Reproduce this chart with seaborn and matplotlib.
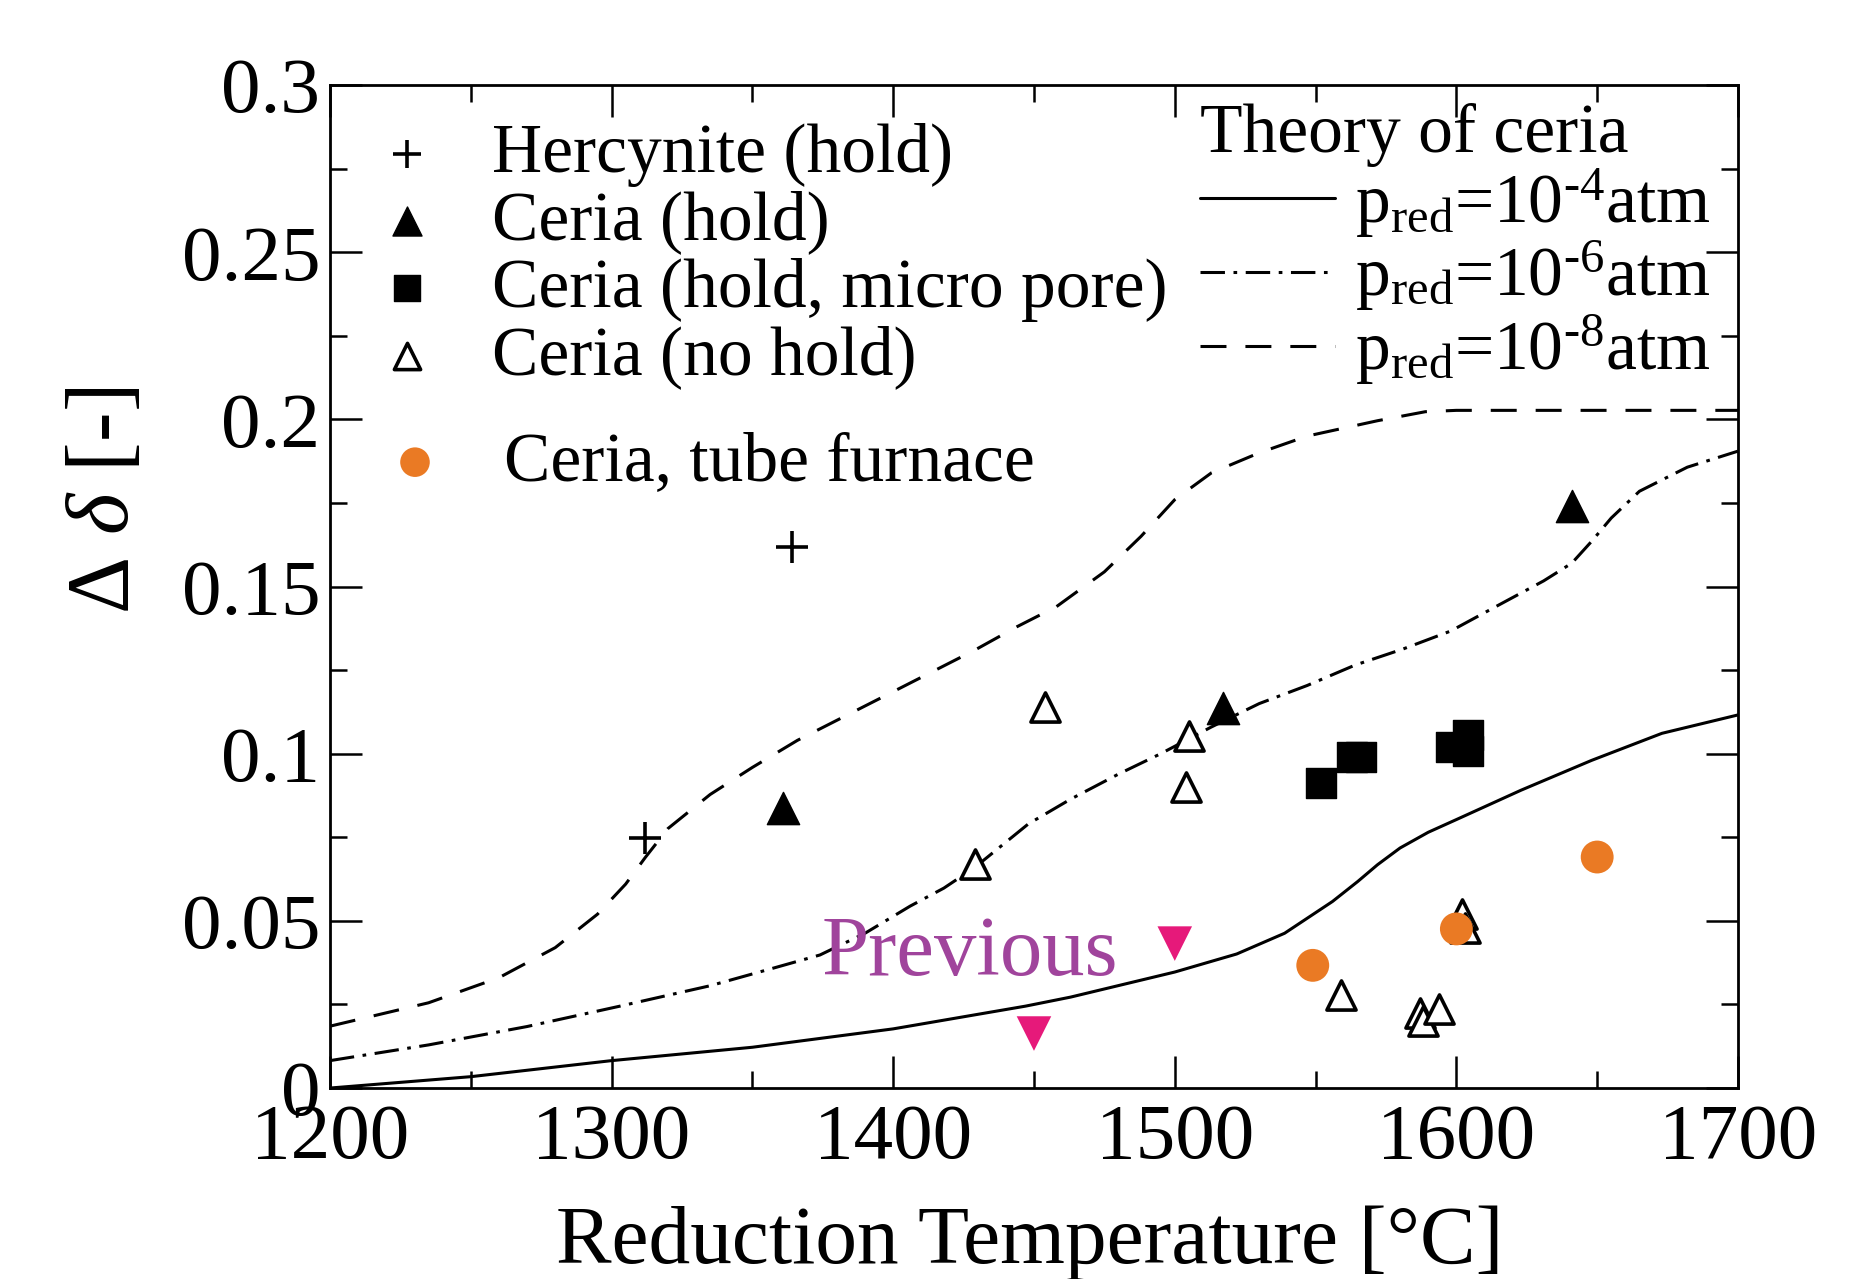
import numpy as np
import pandas as pd
import matplotlib
matplotlib.use("Agg")
import matplotlib.pyplot as plt
import seaborn as sns
from matplotlib.ticker import MultipleLocator, FixedLocator, FixedFormatter

sns.set_style("ticks")
plt.rcParams["font.family"] = ["Liberation Serif", "DejaVu Serif"]
plt.rcParams["mathtext.fontset"] = "custom"
plt.rcParams["mathtext.rm"] = "Liberation Serif"
plt.rcParams["mathtext.it"] = "Liberation Serif:italic"
plt.rcParams["text.color"] = "black"
plt.rcParams["axes.labelcolor"] = "black"

# theory curves
solid_T = [1200, 1250, 1300, 1350, 1400, 1447, 1463, 1500, 1522, 1539, 1556, 1565, 1572, 1580, 1590, 1600, 1623, 1648, 1673, 1700]
solid_d = [0.0, 0.0034, 0.0082, 0.0122, 0.0177, 0.0245, 0.0272, 0.0347, 0.0401, 0.0463, 0.0558, 0.0618, 0.0668, 0.0718, 0.0765, 0.0803, 0.0891, 0.098, 0.1061, 0.1116]

dashdot_T = [1200, 1235, 1270, 1303, 1335, 1358, 1374, 1390, 1406, 1418, 1429, 1448, 1463, 1480, 1495, 1513, 1530, 1547, 1564, 1581, 1598, 1614, 1631, 1641, 1648, 1655, 1665, 1682, 1700]
dashdot_d = [0.0082, 0.0129, 0.0184, 0.0245, 0.0306, 0.036, 0.0398, 0.0463, 0.0544, 0.0598, 0.066, 0.079, 0.0864, 0.0939, 0.100, 0.108, 0.115, 0.1204, 0.1265, 0.1313, 0.1367, 0.144, 0.1517, 0.157, 0.1635, 0.1705, 0.1785, 0.1857, 0.1905]

dashed_T = [1200, 1235, 1260, 1280, 1295, 1305, 1312, 1320, 1335, 1350, 1366, 1398, 1429, 1444, 1458, 1475, 1488, 1500, 1513, 1530, 1547, 1572, 1589, 1600, 1650, 1700]
dashed_d = [0.0185, 0.0255, 0.033, 0.042, 0.052, 0.061, 0.069, 0.0776, 0.0878, 0.0959, 0.104, 0.1177, 0.131, 0.138, 0.144, 0.1544, 0.165, 0.176, 0.184, 0.190, 0.195, 0.1996, 0.2023, 0.2027, 0.2027, 0.2027]

# measurements
herc_T = [1312, 1364]
herc_d = [0.0748, 0.1619]
hold_T = [1361, 1517, 1641]
hold_d = [0.0839, 0.1136, 0.1741]
micro_T = [1552, 1563, 1566, 1598, 1604, 1604]
micro_d = [0.0912, 0.0989, 0.0989, 0.102, 0.1057, 0.1007]
nohold_T = [1429, 1454, 1505, 1504, 1559, 1587, 1588, 1594, 1602, 1603]
nohold_d = [0.067, 0.1139, 0.1054, 0.0899, 0.0279, 0.0225, 0.0200, 0.0236, 0.0521, 0.048]
tube_T = [1549, 1600, 1650]
tube_d = [0.0367, 0.0476, 0.0691]
prev_T = [1450, 1500]
prev_d = [0.0163, 0.0432]

fig = plt.figure(figsize=(18.6, 12.79), dpi=100)
ax = fig.add_axes([0.1774, 0.1493, 0.757, 0.7842])

lw = 2.2
sns.lineplot(x=solid_T, y=solid_d, ax=ax, color="black", lw=lw, sort=False, estimator=None,
             label=r"p$_{\rm red}$=10$^{\text{-}4}$atm")
sns.lineplot(x=dashdot_T, y=dashdot_d, ax=ax, color="black", lw=lw, sort=False, estimator=None,
             linestyle=(0, (8, 2.8, 1.2, 2.8)), label=r"p$_{\rm red}$=10$^{\text{-}6}$atm")
sns.lineplot(x=dashed_T, y=dashed_d, ax=ax, color="black", lw=lw, sort=False, estimator=None,
             linestyle=(0, (8.5, 6.2)), label=r"p$_{\rm red}$=10$^{\text{-}8}$atm")

sns.scatterplot(x=herc_T, y=herc_d, ax=ax, marker="+", s=520, color="black", linewidth=2.6,
                label="Hercynite (hold)", zorder=5)
sns.scatterplot(x=hold_T, y=hold_d, ax=ax, marker="^", s=540, color="black", edgecolor="black",
                linewidth=1, label="Ceria (hold)", zorder=5)
sns.scatterplot(x=micro_T, y=micro_d, ax=ax, marker="s", s=460, color="black", edgecolor="black",
                linewidth=1, label="Ceria (hold, micro pore)", zorder=5)
sns.scatterplot(x=nohold_T, y=nohold_d, ax=ax, marker="^", s=440, color="white", edgecolor="black",
                linewidth=2.6, label="Ceria (no hold)", zorder=5)
sns.scatterplot(x=tube_T, y=tube_d, ax=ax, marker="o", s=560, color="#ea7a24", edgecolor="none",
                linewidth=0, label="Ceria, tube furnace", zorder=6)
sns.scatterplot(x=prev_T, y=prev_d, ax=ax, marker="v", s=620, color="#e6197a", edgecolor="none",
                linewidth=0, zorder=6)

ax.text(1374.7, 0.0338, "Previous", color="#a0449c", fontsize=61, ha="left", va="baseline")

ax.set_xlim(1200, 1700)
ax.set_ylim(0, 0.3)
ax.xaxis.set_major_locator(MultipleLocator(100))
ax.xaxis.set_minor_locator(MultipleLocator(50))
yt = [0, 0.05, 0.1, 0.15, 0.2, 0.25, 0.3]
ax.yaxis.set_major_locator(FixedLocator(yt))
ax.yaxis.set_major_formatter(FixedFormatter(["0", "0.05", "0.1", "0.15", "0.2", "0.25", "0.3"]))
ax.yaxis.set_minor_locator(MultipleLocator(0.025))
ax.tick_params(which="both", direction="in", top=True, right=True, width=1.8, colors="black")
ax.tick_params(which="major", length=23, labelsize=57)
ax.tick_params(which="minor", length=12)
ax.tick_params(axis="x", which="major", pad=11)
ax.tick_params(axis="y", which="major", pad=7)
for sp in ax.spines.values():
    sp.set_linewidth(2)
    sp.set_color("black")

ax.set_xlabel("Reduction Temperature [°C]", fontsize=60)
ax.xaxis.set_label_coords(0.497, -0.117)
ax.set_ylabel(r"Δ $\delta$ [-]", fontsize=64)
ax.yaxis.set_label_coords(-0.13, 0.586)

handles, labels = ax.get_legend_handles_labels()
hmap = dict(zip(labels, handles))
theory_labels = labels[:3]
marker_labels = ["Hercynite (hold)", "Ceria (hold)", "Ceria (hold, micro pore)", "Ceria (no hold)"]

leg1 = ax.legend([hmap[l] for l in marker_labels], marker_labels, loc="upper left",
                 bbox_to_anchor=(0.01, 0.99), frameon=False, fontsize=50, markerscale=0.9,
                 handlelength=1.0, handletextpad=0.73, labelspacing=0.05, borderaxespad=0)
ax.add_artist(leg1)
leg2 = ax.legend([hmap["Ceria, tube furnace"]], ["Ceria, tube furnace"], loc="upper left",
                 bbox_to_anchor=(0.016, 0.682), frameon=False, fontsize=50, markerscale=0.9,
                 handlelength=1.0, handletextpad=0.78, borderaxespad=0)
ax.add_artist(leg2)
leg3 = ax.legend([hmap[l] for l in theory_labels], theory_labels, loc="upper right",
                 bbox_to_anchor=(1.0, 1.01), frameon=False, fontsize=50, title="Theory of ceria",
                 title_fontsize=50, alignment="left", handlelength=1.95, handletextpad=0.28,
                 labelspacing=-0.01, borderaxespad=0)

fig.savefig("out.png", dpi=100)
